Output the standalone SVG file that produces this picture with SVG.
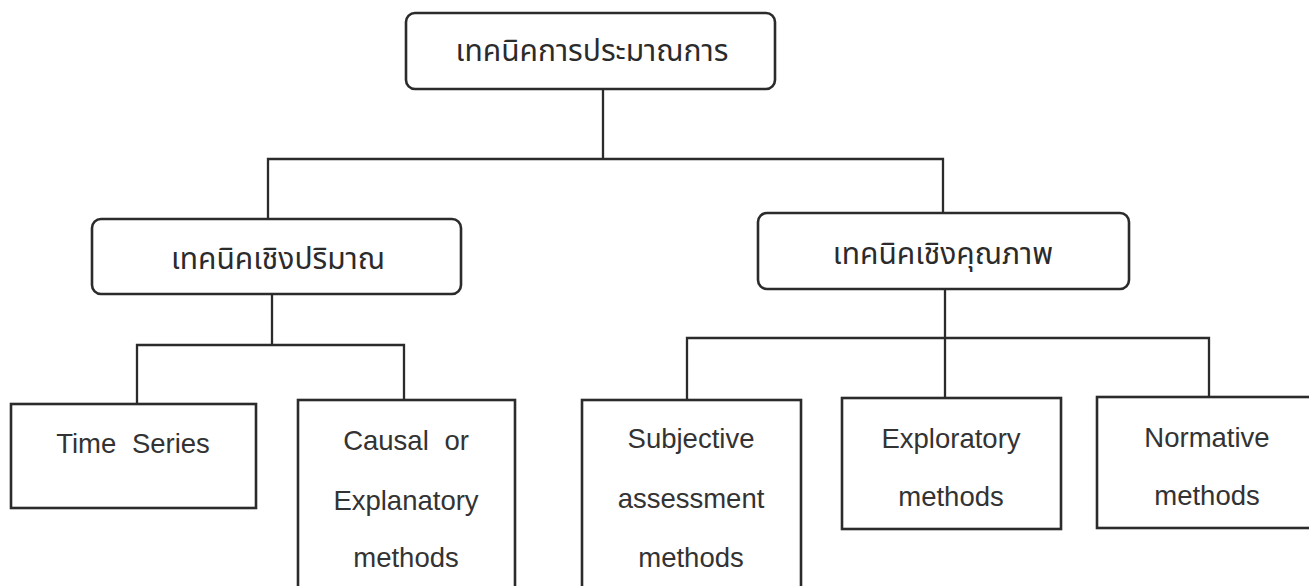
<svg xmlns="http://www.w3.org/2000/svg" width="1309" height="586" viewBox="0 0 1309 586">
<style>
.box{fill:#fff;stroke:#2b2b2b;stroke-width:2.6}
.ln{fill:none;stroke:#2b2b2b;stroke-width:2.3}
.th{font-family:"Noto Sans Thai","Noto Sans","DejaVu Sans",sans-serif;font-size:30px;fill:#2b2b2b;text-anchor:middle}
.en{font-family:"Liberation Sans",Arial,sans-serif;font-size:27.5px;fill:#333;text-anchor:middle}
</style>
<rect width="1309" height="586" fill="#fff"/>
<g id="connectors">
<path class="ln" d="M603 89V159M268 219V159H943V213"/>
<path class="ln" d="M272 294V345M137 404V345H404V400"/>
<path class="ln" d="M945 289V398M687 400V338H1209V397"/>
</g>
<g id="root"><rect class="box" x="406" y="13" width="369" height="76" rx="9"/><text class="th" x="592" y="61" font-size="31">เทคนิคการประมาณการ</text></g>
<g id="quant"><rect class="box" x="92" y="219" width="369" height="75" rx="9"/><text class="th" x="278" y="269">เทคนิคเชิงปริมาณ</text></g>
<g id="qual"><rect class="box" x="758" y="213" width="371" height="76" rx="9"/><text class="th" x="943" y="264">เทคนิคเชิงคุณภาพ</text></g>
<g id="timeseries"><rect class="box" x="11" y="404" width="245" height="104"/><text class="en" x="133" y="453" word-spacing="8">Time Series</text></g>
<g id="causal"><rect class="box" x="298" y="400" width="217" height="200"/><text class="en" x="406" y="450" word-spacing="8">Causal or</text><text class="en" x="406" y="510">Explanatory</text><text class="en" x="406" y="567">methods</text></g>
<g id="subjective"><rect class="box" x="582" y="400" width="219" height="200"/><text class="en" x="691" y="448">Subjective</text><text class="en" x="691" y="508">assessment</text><text class="en" x="691" y="567">methods</text></g>
<g id="exploratory"><rect class="box" x="842" y="398" width="219" height="131"/><text class="en" x="951" y="448">Exploratory</text><text class="en" x="951" y="506">methods</text></g>
<g id="normative"><rect class="box" x="1097" y="397" width="222" height="131"/><text class="en" x="1207" y="447">Normative</text><text class="en" x="1207" y="505">methods</text></g>
</svg>
